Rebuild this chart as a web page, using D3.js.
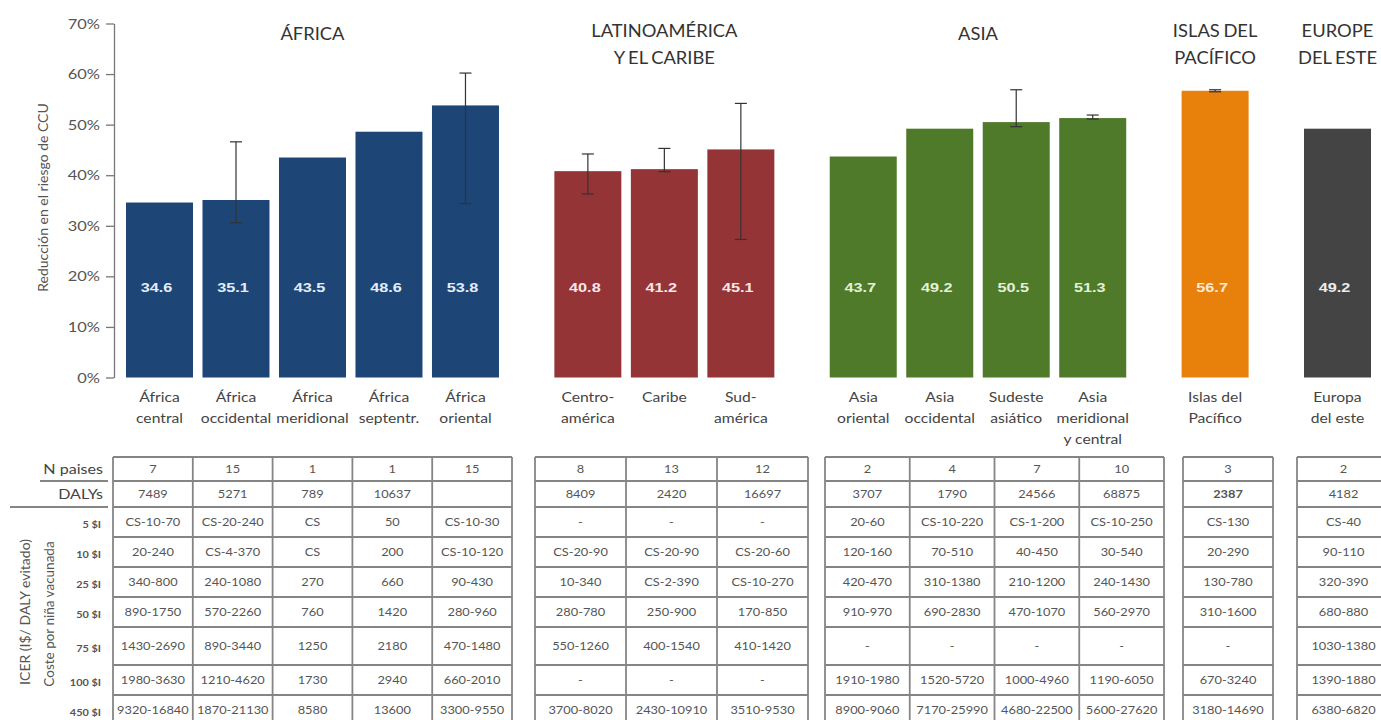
<!DOCTYPE html>
<html><head><meta charset="utf-8">
<script src="https://cdn.jsdelivr.net/npm/d3@7"></script>
<style>body{margin:0;background:#fff;} svg{display:block;font-family:Lato,"Open Sans",sans-serif;}</style>
</head><body><svg id="c" width="1381" height="720"></svg>
<script>
// ---------- DATA ----------
const groupTitles = [["ÁFRICA"], ["LATINOAMÉRICA", "Y EL CARIBE"], ["ASIA"], ["ISLAS DEL", "PACÍFICO"], ["EUROPE", "DEL ESTE"]];
const groupColors = ["#1d4677", "#943437", "#4e7a29", "#e8810c", "#444444"];
const valueLabelColors = ["#e4ecf7", "#f7e6e6", "#e4f0d6", "#fde9d2", "#ececec"];
const categories = [
  ["África", "central"], ["África", "occidental"], ["África", "meridional"], ["África", "septentr."], ["África", "oriental"],
  ["Centro-", "américa"], ["Caribe"], ["Sud-", "américa"],
  ["Asia", "oriental"], ["Asia", "occidental"], ["Sudeste", "asiático"], ["Asia", "meridional", "y central"],
  ["Islas del", "Pacífico"], ["Europa", "del este"]
];
const categoryGroup = [0, 0, 0, 0, 0, 1, 1, 1, 2, 2, 2, 2, 3, 4];
const values = [34.6, 35.1, 43.5, 48.6, 53.8, 40.8, 41.2, 45.1, 43.7, 49.2, 50.5, 51.3, 56.7, 49.2];
const errLow = [null, 30.6, null, null, 34.4, 36.3, 40.7, 27.3, null, null, 49.6, 51.1, 56.5, null];
const errHigh = [null, 46.6, null, null, 60.2, 44.2, 45.3, 54.2, null, null, 56.9, 51.9, 56.9, null];
const yTicks = [0, 10, 20, 30, 40, 50, 60, 70];
const yTitle = "Reducción en el riesgo de CCU";

const nPaises = ["7", "15", "1", "1", "15", "8", "13", "12", "2", "4", "7", "10", "3", "2"];
const dalys = ["7489", "5271", "789", "10637", "", "8409", "2420", "16697", "3707", "1790", "24566", "68875", "2387", "4182"];
const costLevels = ["5 $I", "10 $I", "25 $I", "50 $I", "75 $I", "100 $I", "450 $I"];
const icer5 = ["CS-10-70", "CS-20-240", "CS", "50", "CS-10-30", "-", "-", "-", "20-60", "CS-10-220", "CS-1-200", "CS-10-250", "CS-130", "CS-40"];
const icer10 = ["20-240", "CS-4-370", "CS", "200", "CS-10-120", "CS-20-90", "CS-20-90", "CS-20-60", "120-160", "70-510", "40-450", "30-540", "20-290", "90-110"];
const icer25 = ["340-800", "240-1080", "270", "660", "90-430", "10-340", "CS-2-390", "CS-10-270", "420-470", "310-1380", "210-1200", "240-1430", "130-780", "320-390"];
const icer50 = ["890-1750", "570-2260", "760", "1420", "280-960", "280-780", "250-900", "170-850", "910-970", "690-2830", "470-1070", "560-2970", "310-1600", "680-880"];
const icer75 = ["1430-2690", "890-3440", "1250", "2180", "470-1480", "550-1260", "400-1540", "410-1420", "-", "-", "-", "-", "-", "1030-1380"];
const icer100 = ["1980-3630", "1210-4620", "1730", "2940", "660-2010", "-", "-", "-", "1910-1980", "1520-5720", "1000-4960", "1190-6050", "670-3240", "1390-1880"];
const icer450 = ["9320-16840", "1870-21130", "8580", "13600", "3300-9550", "3700-8020", "2430-10910", "3510-9530", "8900-9060", "7170-25990", "4680-22500", "5600-27620", "3180-14690", "6380-6820"];
const tableRowLabels = ["N paises", "DALYs"].concat(costLevels);
const tableRows = [nPaises, dalys, icer5, icer10, icer25, icer50, icer75, icer100, icer450];
const icerTitle = "ICER (I$/ DALY evitado)";
const costTitle = "Coste por niña vacunada";

// ---------- LAYOUT ----------
const svg = d3.select("#c");
svg.append("rect").attr("width", 1381).attr("height", 720).attr("fill", "#fff");
const SX = 1.15; // horizontal text stretch of the original image

function stext(g, x, y, txt, opts) {
  const t = g.append("text")
    .attr("transform", `translate(${x},${y}) scale(${opts.sx || SX},1)`)
    .attr("text-anchor", opts.anchor || "middle")
    .attr("font-size", opts.size || 12)
    .attr("fill", opts.fill || "#333")
    .attr("font-weight", opts.weight || "normal")
    .text(txt);
  if (opts.family) t.attr("font-family", opts.family);
  if (opts.ws) t.attr("word-spacing", opts.ws);
  return t;
}

const y = d3.scaleLinear().domain([0, 70]).range([377.5, 23.5]);
const slots = values.map((v, i) => i + 0.6 * categoryGroup[i]);
const x = d3.scaleLinear().domain([0, 15.4]).range([126, 1304]);
const barW = 67;

// axis
const axis = svg.append("g").attr("transform", "translate(114,0)")
  .call(d3.axisLeft(y).tickValues(yTicks).tickSize(8).tickSizeOuter(0).tickFormat(d => d + "%"));
axis.select(".domain").attr("stroke", "#777").attr("stroke-width", 1.3);
axis.selectAll(".tick line").attr("stroke", "#777").attr("stroke-width", 1.3);
axis.selectAll(".tick text").remove();
yTicks.forEach(t => stext(svg, 100, y(t) + 5, t + "%", {anchor: "end", size: 13.5, fill: "#555", sx: 1.22}));

svg.append("text").attr("transform", `translate(48,${y(35) - 3}) rotate(-90)`)
  .attr("text-anchor", "middle").attr("font-size", 14).attr("fill", "#555").text(yTitle);

// bars
const bars = svg.append("g");
values.forEach((v, i) => {
  const g = categoryGroup[i];
  const x0 = x(slots[i]);
  bars.append("rect").attr("x", x0).attr("y", y(v)).attr("width", barW).attr("height", y(0) - y(v))
    .attr("fill", groupColors[g]);
  stext(bars, x0 + barW / 2 - 3, 292, v.toFixed(1), {size: 13, weight: "bold", fill: valueLabelColors[g], family: "'Liberation Sans', Arial, sans-serif", sx: 1.25});
  if (errLow[i] != null) {
    const cx = x0 + barW / 2;
    const eg = bars.append("g").attr("stroke", "#333").attr("stroke-width", 1.2);
    eg.append("line").attr("x1", cx).attr("x2", cx).attr("y1", y(errLow[i])).attr("y2", y(errHigh[i]));
    eg.append("line").attr("x1", cx - 6).attr("x2", cx + 6).attr("y1", y(errLow[i])).attr("y2", y(errLow[i]));
    eg.append("line").attr("x1", cx - 6).attr("x2", cx + 6).attr("y1", y(errHigh[i])).attr("y2", y(errHigh[i]));
  }
  categories[i].forEach((line, k) => {
    stext(svg, x0 + barW / 2, 402 + k * 21, line, {size: 14, fill: "#444", sx: 1.12});
  });
});

// group titles
groupTitles.forEach((lines, g) => {
  const idx = d3.range(values.length).filter(i => categoryGroup[i] === g);
  const cx = (x(slots[idx[0]]) + x(slots[idx[idx.length - 1]]) + barW) / 2;
  lines.forEach((line, k) => {
    stext(svg, cx, (lines.length === 1 ? 40 : 37) + k * 27, line, {size: 17, fill: "#333", sx: 1.08, ws: -1});
  });
});

// ---------- TABLE ----------
const tableExtents = [[113, 512], [535, 808], [825, 1164], [1183, 1273], [1297, 1390]];
const rowEdges = [457, 481, 507, 537, 567, 597, 627, 665, 695, 725];
const lineColor = "#858585";
const tbl = svg.append("g");
tableExtents.forEach((ext, g) => {
  const idx = d3.range(values.length).filter(i => categoryGroup[i] === g);
  const band = d3.scaleBand().domain(idx).range(ext).paddingInner(0);
  rowEdges.forEach(ry => {
    tbl.append("line").attr("x1", ext[0]).attr("x2", ext[1]).attr("y1", ry).attr("y2", ry)
      .attr("stroke", lineColor).attr("stroke-width", 1.8);
  });
  idx.forEach(i => {
    tbl.append("line").attr("x1", band(i)).attr("x2", band(i)).attr("y1", rowEdges[0]).attr("y2", 725)
      .attr("stroke", lineColor).attr("stroke-width", 1.8);
  });
  tbl.append("line").attr("x1", ext[1]).attr("x2", ext[1]).attr("y1", rowEdges[0]).attr("y2", 725)
    .attr("stroke", lineColor).attr("stroke-width", 1.8);
  tableRows.forEach((row, r) => {
    const cy = (rowEdges[r] + rowEdges[r + 1]) / 2 + 4;
    idx.forEach(i => {
      stext(tbl, band(i) + band.bandwidth() / 2, cy, row[i], {size: 10.5, fill: "#555", sx: 1.22, weight: (g === 3 && r === 1) ? "bold" : "normal"});
    });
  });
});
// row labels
tableRowLabels.forEach((lab, r) => {
  const cy = (rowEdges[r] + rowEdges[r + 1]) / 2;
  if (r < 2) stext(svg, 103, cy + 5, lab, {anchor: "end", size: 14, fill: "#444"});
  else stext(svg, 101, cy + 6, lab, {anchor: "end", size: 9.5, weight: "bold", fill: "#555"});
});
svg.append("line").attr("x1", 40).attr("x2", 108).attr("y1", 481).attr("y2", 481).attr("stroke", lineColor).attr("stroke-width", 1.8);
svg.append("line").attr("x1", 10).attr("x2", 108).attr("y1", 507).attr("y2", 507).attr("stroke", lineColor).attr("stroke-width", 1.8);
svg.append("text").attr("transform", "translate(30,612) rotate(-90)").attr("text-anchor", "middle")
  .attr("font-size", 14).attr("fill", "#555").text(icerTitle);
svg.append("text").attr("transform", "translate(54,614) rotate(-90)").attr("text-anchor", "middle")
  .attr("font-size", 13.5).attr("fill", "#555").text(costTitle);
</script>
</body></html>
